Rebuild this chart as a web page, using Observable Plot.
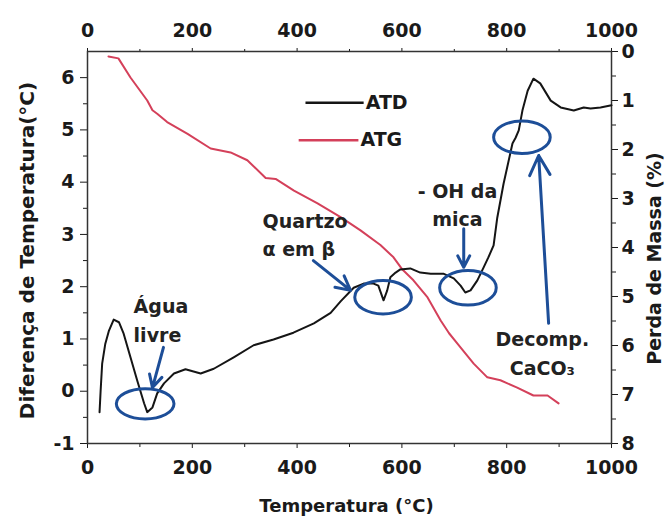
<!DOCTYPE html>
<html>
<head>
<meta charset="utf-8">
<script src="https://cdn.jsdelivr.net/npm/d3@7"></script>
<script src="https://cdn.jsdelivr.net/npm/@observablehq/plot@0.6"></script>
<style>
  html, body { margin: 0; padding: 0; background: #fff; }
</style>
</head>
<body>
<div id="chart"></div>
<script>
// ---- Data ----
// ATD: temperature difference (°C), left axis
const atdTemp = [23, 25, 28, 34, 41, 50, 60, 69, 82, 95, 108, 114, 124, 133, 146, 165, 187, 216, 241, 279, 317, 355, 393, 432, 464, 483, 508, 527, 546, 555, 565, 572, 578, 588, 597, 616, 635, 655, 679, 699, 712, 721, 731, 744, 756, 765, 775, 782, 794, 811, 817, 823, 830, 840, 851, 864, 884, 903, 928, 947, 960, 979, 1000];
const atdDiff = [-0.40, 0.00, 0.53, 0.91, 1.16, 1.37, 1.32, 1.10, 0.65, 0.20, -0.23, -0.40, -0.31, -0.04, 0.15, 0.34, 0.42, 0.34, 0.43, 0.65, 0.88, 0.99, 1.12, 1.30, 1.50, 1.72, 1.98, 2.06, 2.06, 2.02, 1.74, 1.93, 2.18, 2.27, 2.33, 2.35, 2.27, 2.25, 2.25, 2.16, 2.02, 1.89, 1.93, 2.12, 2.37, 2.56, 2.79, 3.32, 3.97, 4.74, 4.85, 4.99, 5.37, 5.75, 5.98, 5.89, 5.56, 5.43, 5.37, 5.43, 5.41, 5.43, 5.47];

// ATG: mass loss (%), right axis (inverted)
const atgTemp = [40, 59, 82, 114, 124, 133, 152, 191, 235, 273, 305, 340, 359, 394, 439, 483, 521, 559, 584, 601, 622, 649, 674, 690, 706, 737, 763, 788, 820, 851, 878, 899];
const atgLoss = [0.10, 0.14, 0.53, 1.00, 1.20, 1.27, 1.44, 1.68, 1.98, 2.06, 2.22, 2.58, 2.60, 2.84, 3.10, 3.38, 3.65, 3.95, 4.20, 4.45, 4.67, 5.02, 5.49, 5.75, 5.96, 6.37, 6.65, 6.71, 6.86, 7.02, 7.02, 7.18];

// Ticks
const xTicks = [0, 200, 400, 600, 800, 1000];
const xMinor = [100, 300, 500, 700, 900];
const leftTicks = [-1, 0, 1, 2, 3, 4, 5, 6];
const leftMinor = [-0.5, 0.5, 1.5, 2.5, 3.5, 4.5, 5.5];
const rightTicks = [0, 1, 2, 3, 4, 5, 6, 7, 8];
const rightMinor = [0.5, 1.5, 2.5, 3.5, 4.5, 5.5, 6.5, 7.5];

// Series names / legend
const seriesNames = ["ATD", "ATG"];
const seriesColors = ["#151515", "#d4405a"];

// Annotations (data coordinates: temperature, left-axis value)
const noteTexts = ["Água\nlivre", "Quartzo\nα em β", "- OH da\nmica", "Decomp.\nCaCO₃"];
const noteTemp = [88, 334, 706, 868];
const noteDiff = [1.39, 3.03, 3.60, 0.76];
const noteAnchor = ["start", "start", "middle", "middle"];

const ellipseTemp = [111, 565, 727, 830];
const ellipseDiff = [-0.25, 1.79, 1.97, 4.85];
const ellipseHalfTemp = [55, 54, 54, 54];
const ellipseHalfDiff = [0.29, 0.32, 0.33, 0.31];

const arrowTemp1 = [145, 431, 718, 880];
const arrowDiff1 = [0.84, 2.50, 3.11, 1.30];
const arrowTemp2 = [124, 502, 718, 861];
const arrowDiff2 = [0.07, 1.93, 2.37, 4.51];

// ---- Scales ----
const leftDomain = [-1, 6.5];
const rightDomain = [0, 8];
const rightToLeft = r => leftDomain[1] - (r - rightDomain[0]) * (leftDomain[1] - leftDomain[0]) / (rightDomain[1] - rightDomain[0]);
const leftToRight = v => rightDomain[0] + (leftDomain[1] - v) * (rightDomain[1] - rightDomain[0]) / (leftDomain[1] - leftDomain[0]);

const blue = "#1d4e98";
const ink = "#1a1a1a";
const FONT = "DejaVu Sans, Liberation Sans, Arial, sans-serif";

// Legend layout (data coords)
const legendRows = seriesNames.map((name, i) => ({
  name, color: seriesColors[i],
  x1: i === 0 ? 416 : 403, x2: i === 0 ? 527 : 517,
  y: i === 0 ? 5.52 : 4.80
}));

const ellipses = ellipseTemp.map((t, i) => ({t, d: ellipseDiff[i], ht: ellipseHalfTemp[i], hd: ellipseHalfDiff[i]}));

function ellipseMark(list) {
  return function(index, scales) {
    const sx = typeof scales.x === "function" ? scales.x : scales.scales.x.apply;
    const sy = typeof scales.y === "function" ? scales.y : scales.scales.y.apply;
    const g = d3.create("svg:g").attr("fill", "none").attr("stroke", blue).attr("stroke-width", 3);
    for (const e of list) {
      const cx = sx(e.t), cy = sy(e.d);
      g.append("ellipse")
        .attr("cx", cx).attr("cy", cy)
        .attr("rx", Math.abs(sx(e.t + e.ht) - cx))
        .attr("ry", Math.abs(sy(e.d + e.hd) - cy));
    }
    return g.node();
  };
}

const atdIdx = d3.range(atdTemp.length);
const atgIdx = d3.range(atgTemp.length);
const noteIdx = d3.range(noteTexts.length);
const noteStart = noteIdx.filter(i => noteAnchor[i] === "start");
const noteMiddle = noteIdx.filter(i => noteAnchor[i] === "middle");
const arrowIdx = d3.range(arrowTemp1.length);

const tickFont = {fontSize: 19, fontWeight: "bold", fontFamily: FONT};
const noteOpts = {x: i => noteTemp[i], y: i => noteDiff[i], text: i => noteTexts[i], lineHeight: 1.5, fontSize: 19, fontWeight: "bold", fill: "#222"};

const chart = Plot.plot({
  width: 668,
  height: 525,
  marginLeft: 87,
  marginRight: 57,
  marginTop: 51,
  marginBottom: 82,
  style: {fontFamily: FONT, fontWeight: "bold", fontSize: "19px", background: "#fff", color: ink},
  x: {domain: [0, 1000]},
  y: {domain: leftDomain},
  marks: [
    // axes
    Plot.axisX({anchor: "bottom", ticks: xTicks, tickFormat: d => String(d), tickSize: 5, tickPadding: 12, label: null, color: ink, ...tickFont}),
    Plot.axisX({anchor: "bottom", ticks: xMinor, tickSize: 4, label: null, stroke: ink, fill: "none"}),
    Plot.axisX({anchor: "top", ticks: xTicks, tickFormat: d => String(d), tickSize: 4, tickPadding: 11, label: null, color: ink, ...tickFont}),
    Plot.axisX({anchor: "top", ticks: xMinor, tickSize: 3, label: null, stroke: ink, fill: "none"}),
    Plot.axisY({anchor: "left", ticks: leftTicks, tickFormat: d => String(d), tickSize: 7, tickPadding: 6, label: null, color: ink, ...tickFont}),
    Plot.axisY({anchor: "left", ticks: leftMinor, tickSize: 4, label: null, stroke: ink, fill: "none"}),
    Plot.axisY({anchor: "right", ticks: rightTicks.map(rightToLeft), tickFormat: v => String(Math.round(leftToRight(v))), tickSize: 6, tickPadding: 4, label: null, color: ink, ...tickFont}),
    Plot.axisY({anchor: "right", ticks: rightMinor.map(rightToLeft), tickSize: 4, label: null, stroke: ink, fill: "none"}),
    Plot.frame({stroke: "#333", strokeWidth: 1.5}),

    // axis titles
    Plot.text(["Temperatura (°C)"], {text: d => d, frameAnchor: "bottom", textAnchor: "middle", lineAnchor: "middle", dx: -3, dy: 63, fontSize: 18, fontWeight: "bold", fill: ink}),
    Plot.text(["Diferença de Temperatura(°C)"], {text: d => d, frameAnchor: "left", textAnchor: "middle", lineAnchor: "middle", rotate: -90, dx: -60, dy: 3, fontSize: 20, fontWeight: "bold", fill: ink}),
    Plot.text(["Perda de Massa (%)"], {text: d => d, frameAnchor: "right", textAnchor: "middle", lineAnchor: "middle", rotate: -90, dx: 43, dy: 11, fontSize: 19, fontWeight: "bold", fill: ink}),

    // data series
    Plot.line(atgIdx, {x: atgTemp, y: atgLoss.map(rightToLeft), stroke: seriesColors[1], strokeWidth: 2}),
    Plot.line(atdIdx, {x: atdTemp, y: atdDiff, stroke: seriesColors[0], strokeWidth: 2}),

    // legend
    Plot.link(legendRows, {x1: "x1", x2: "x2", y1: "y", y2: "y", stroke: "color", strokeWidth: 2.5}),
    Plot.text(legendRows, {x: "x2", y: "y", text: "name", textAnchor: "start", dx: 2, fontSize: 19, fontWeight: "bold", fill: ink}),

    // annotations
    ellipseMark(ellipses),
    Plot.arrow(arrowIdx, {x1: arrowTemp1, y1: arrowDiff1, x2: arrowTemp2, y2: arrowDiff2, stroke: blue, strokeWidth: 3, headLength: 11, headAngle: 55}),
    Plot.text(noteStart, {...noteOpts, textAnchor: "start"}),
    Plot.text(noteMiddle, {...noteOpts, textAnchor: "middle"})
  ]
});

document.getElementById("chart").appendChild(chart);
</script>
</body>
</html>
